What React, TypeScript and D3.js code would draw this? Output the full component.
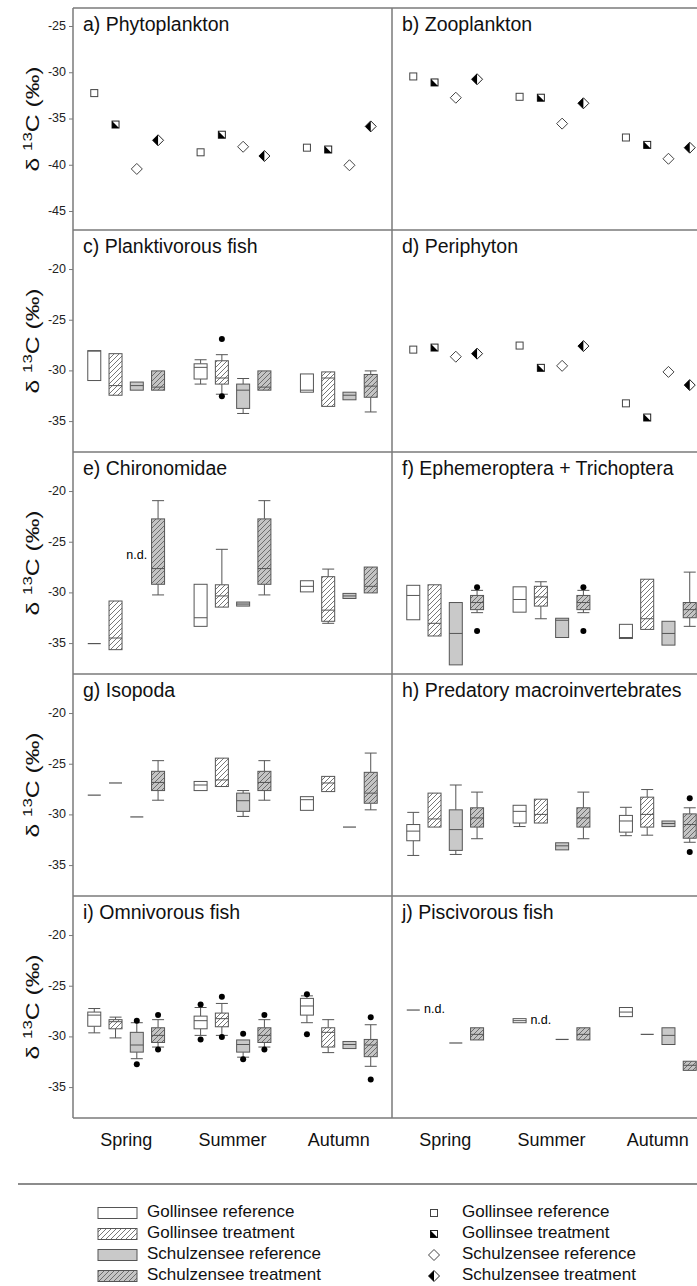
import React from 'react';
import * as d3 from 'd3';

const seasons = ['Spring', 'Summer', 'Autumn'];
const groups = ['Gollinsee reference', 'Gollinsee treatment', 'Schulzensee reference', 'Schulzensee treatment'];

// point panels: per season, one value per group (GR, GT, SR, ST)
const phytoplankton = [
  [-32.2, -35.6, -40.4, -37.3],
  [-38.6, -36.7, -38.0, -39.0],
  [-38.1, -38.3, -40.0, -35.8],
];
const zooplankton = [
  [-30.4, -31.05, -32.7, -30.7],
  [-32.6, -32.7, -35.5, -33.3],
  [-37.0, -37.8, -39.3, -38.1],
];
const periphyton = [
  [-27.9, -27.7, -28.6, -28.3],
  [-27.5, -29.7, -29.5, -27.55],
  [-33.2, -34.6, -30.1, -31.4],
];

// box panels: [whiskerLow, q1, median, q3, whiskerHigh, outliers?]; [v] = single value; null = n.d.
const planktivorous = [
  [[-30.95, -30.95, -28.05, -28.0, -28.0], [-32.4, -32.4, -31.45, -28.3, -28.3], [-31.9, -31.9, -31.45, -31.1, -31.1], [-31.9, -31.9, -31.6, -30.0, -30.0]],
  [[-31.3, -30.8, -29.65, -29.3, -28.9], [-32.3, -31.3, -30.7, -29.0, -28.4, [-26.85, -32.5]], [-34.2, -33.7, -31.9, -31.3, -30.75], [-31.9, -31.9, -31.6, -30.0, -30.0]],
  [[-32.1, -32.1, -31.9, -30.3, -30.3], [-33.5, -33.5, -30.7, -30.1, -30.1], [-32.85, -32.85, -32.4, -32.1, -32.1], [-34.05, -32.6, -31.5, -30.35, -30.0]],
];
const chironomidae = [
  [[-35.0], [-35.6, -35.6, -34.45, -30.8, -30.8], null, [-30.2, -29.15, -27.6, -22.7, -20.9]],
  [[-33.3, -33.3, -32.45, -29.15, -29.15], [-31.4, -31.4, -30.3, -29.2, -25.7], [-31.3, -31.3, -31.1, -30.9, -30.9], [-30.2, -29.15, -27.6, -22.7, -20.9]],
  [[-29.9, -29.9, -29.35, -28.8, -28.8], [-33.0, -32.8, -31.7, -28.4, -27.65], [-30.55, -30.55, -30.3, -30.05, -30.05], [-30.0, -30.0, -29.35, -27.45, -27.45]],
];
const ephemeroptera = [
  [[-32.65, -32.65, -30.25, -29.25, -29.25], [-34.25, -34.25, -33.0, -29.2, -29.2], [-37.1, -37.1, -34.0, -30.95, -30.95], [-31.95, -31.65, -30.95, -30.25, -29.75, [-29.45, -33.75]]],
  [[-31.9, -31.9, -30.65, -29.4, -29.4], [-32.55, -31.3, -30.4, -29.35, -28.9], [-34.4, -34.4, -32.7, -32.5, -32.5], [-31.95, -31.65, -30.95, -30.25, -29.75, [-29.45, -33.75]]],
  [[-34.5, -34.5, -34.4, -33.1, -33.1], [-33.6, -33.6, -32.55, -28.65, -28.65], [-35.15, -35.15, -34.0, -32.8, -32.8], [-33.3, -32.45, -31.65, -30.95, -27.95]],
];
const isopoda = [
  [[-28.05], [-26.85], [-30.2], [-28.55, -27.6, -26.8, -25.7, -24.65]],
  [[-27.6, -27.6, -27.05, -26.7, -26.7], [-27.2, -27.2, -26.55, -24.4, -24.4], [-30.15, -29.65, -28.6, -27.85, -27.6], [-28.55, -27.6, -26.8, -25.7, -24.65]],
  [[-29.55, -29.55, -28.5, -28.2, -28.2], [-27.7, -27.7, -26.85, -26.2, -26.2], [-31.2], [-29.5, -28.85, -27.85, -25.8, -23.9]],
];
const predatory = [
  [[-34.0, -32.55, -31.6, -30.95, -29.75], [-31.2, -31.2, -30.4, -27.85, -27.85], [-33.9, -33.5, -31.45, -29.5, -27.05], [-32.35, -31.2, -30.3, -29.3, -27.75]],
  [[-31.15, -30.8, -29.65, -29.05, -29.05], [-30.8, -30.8, -29.95, -28.45, -28.45], [-33.45, -33.45, -33.05, -32.75, -32.75], [-32.35, -31.2, -30.3, -29.3, -27.75]],
  [[-32.05, -31.7, -30.6, -30.05, -29.25], [-32.0, -31.2, -29.95, -28.25, -27.5], [-31.15, -31.15, -30.85, -30.6, -30.6], [-32.7, -32.3, -30.95, -29.9, -29.3, [-28.35, -33.65]]],
];
const omnivorous = [
  [[-29.6, -28.95, -27.85, -27.55, -27.2], [-30.1, -29.2, -28.5, -28.3, -28.05], [-32.15, -31.5, -30.8, -29.55, -28.6, [-28.4, -32.7]], [-31.0, -30.55, -29.85, -29.1, -28.3, [-27.85, -31.25]]],
  [[-29.85, -29.2, -28.4, -27.95, -27.1, [-26.8, -30.25]], [-29.85, -29.0, -28.2, -27.65, -26.7, [-26.05, -30.0]], [-32.0, -31.5, -30.75, -30.3, -30.3, [-29.7, -32.2]], [-31.0, -30.55, -29.85, -29.1, -28.3, [-27.85, -31.25]]],
  [[-28.6, -27.85, -26.95, -26.2, -25.95, [-25.8, -29.75]], [-31.55, -31.0, -29.55, -29.1, -28.3], [-31.15, -31.15, -30.75, -30.45, -30.45], [-32.9, -31.95, -30.8, -30.25, -28.8, [-28.05, -34.2]]],
];
const piscivorous = [
  [[-27.35], null, [-30.6], [-30.3, -30.3, -29.75, -29.1, -29.1]],
  [[-28.6, -28.6, -28.4, -28.2, -28.2], null, [-30.25], [-30.3, -30.3, -29.75, -29.1, -29.1]],
  [[-28.0, -28.0, -27.55, -27.1, -27.1], [-29.75], [-30.75, -30.75, -29.85, -29.1, -29.1], [-33.3, -33.3, -32.8, -32.4, -32.4]],
];
// where the "n.d." text sits: [season, group, value]
const chironomidaeND = [[0, 2, -26.3]];
const piscivorousND = [[0, 1, -27.35], [1, 1, -28.4]];

const ticksTop = [-25, -30, -35, -40, -45];
const ticksLow = [-20, -25, -30, -35];

const W = 697, H = 1286;
const colX = [73, 392];
const rowTop = [8, 230, 452, 674, 896];
const rowH = 222;
const panelW = 319;
const font = '"Liberation Sans", Arial, sans-serif';
const stroke = '#555';
const frame = '#7a7a7a';
const fills = ['#ffffff', 'url(#hatchW)', '#c9c9c9', 'url(#hatchG)'];

const x = d3.scaleLinear().domain([-1, 14]).range([0, panelW]);
const slot = (s: number, g: number) => s * 5 + g;
const yTop = d3.scaleLinear().domain([-47, -23]).range([rowH, 0]);
const yLow = d3.scaleLinear().domain([-38, -16.1]).range([rowH, 0]);

const panels: any[] = [
  { title: 'a) Phytoplankton', row: 0, col: 0, points: phytoplankton },
  { title: 'b) Zooplankton', row: 0, col: 1, points: zooplankton },
  { title: 'c) Planktivorous fish', row: 1, col: 0, boxes: planktivorous },
  { title: 'd) Periphyton', row: 1, col: 1, points: periphyton },
  { title: 'e) Chironomidae', row: 2, col: 0, boxes: chironomidae, nd: chironomidaeND },
  { title: 'f) Ephemeroptera + Trichoptera', row: 2, col: 1, boxes: ephemeroptera },
  { title: 'g) Isopoda', row: 3, col: 0, boxes: isopoda },
  { title: 'h) Predatory macroinvertebrates', row: 3, col: 1, boxes: predatory },
  { title: 'i) Omnivorous fish', row: 4, col: 0, boxes: omnivorous },
  { title: 'j) Piscivorous fish', row: 4, col: 1, boxes: piscivorous, nd: piscivorousND },
];

const Marker = ({ g, cx, cy }: { g: number; cx: number; cy: number }) => {
  const s = 3.5, r = 5.5;
  if (g === 0) return <rect x={cx - s} y={cy - s} width={2 * s} height={2 * s} fill="#fff" stroke="#444" strokeWidth={1} />;
  if (g === 1)
    return (
      <g>
        <rect x={cx - s} y={cy - s} width={2 * s} height={2 * s} fill="#fff" stroke="#222" strokeWidth={1} />
        <path d={`M${cx - s},${cy - s}L${cx - s},${cy + s}L${cx + s},${cy + s}Z`} fill="#000" />
      </g>
    );
  const dia = `M${cx},${cy - r}L${cx + r},${cy}L${cx},${cy + r}L${cx - r},${cy}Z`;
  if (g === 2) return <path d={dia} fill="#fff" stroke="#444" strokeWidth={1} />;
  return (
    <g>
      <path d={dia} fill="#fff" stroke="#222" strokeWidth={1} />
      <path d={`M${cx},${cy - r}L${cx - r},${cy}L${cx},${cy + r}Z`} fill="#000" />
    </g>
  );
};

const Box = ({ d, g, cx, y }: { d: any; g: number; cx: number; y: any }) => {
  const bw = 13, cw = 12;
  if (d.length === 1)
    return <line x1={cx - bw / 2} x2={cx + bw / 2} y1={y(d[0])} y2={y(d[0])} stroke={stroke} strokeWidth={1.2} />;
  const [lo, q1, med, q3, hi, out] = d;
  return (
    <g>
      {lo < q1 && (
        <g stroke={stroke} strokeWidth={1}>
          <line x1={cx} x2={cx} y1={y(q1)} y2={y(lo)} />
          <line x1={cx - cw / 2} x2={cx + cw / 2} y1={y(lo)} y2={y(lo)} />
        </g>
      )}
      {hi > q3 && (
        <g stroke={stroke} strokeWidth={1}>
          <line x1={cx} x2={cx} y1={y(q3)} y2={y(hi)} />
          <line x1={cx - cw / 2} x2={cx + cw / 2} y1={y(hi)} y2={y(hi)} />
        </g>
      )}
      <rect x={cx - bw / 2} y={y(q3)} width={bw} height={Math.max(1, y(q1) - y(q3))} fill={fills[g]} stroke={stroke} strokeWidth={1} />
      <line x1={cx - bw / 2} x2={cx + bw / 2} y1={y(med)} y2={y(med)} stroke={stroke} strokeWidth={1} />
      {(out || []).map((o: number, i: number) => (
        <circle key={i} cx={cx} cy={y(o)} r={3} fill="#000" />
      ))}
    </g>
  );
};

const App = () => {
  const rightEdge = W;
  const bottom = rowTop[4] + rowH;
  return (
    <div style={{ position: 'absolute', left: 0, top: 0 }}>
      <svg width={W} height={H} style={{ display: 'block', background: '#fff' }} fontFamily={font}>
        <defs>
          <pattern id="hatchW" patternUnits="userSpaceOnUse" width={5} height={5}>
            <rect width={5} height={5} fill="#fff" />
            <path d="M-1,6L6,-1M-1,1L1,-1M4,6L6,4" stroke="#555" strokeWidth={0.8} />
          </pattern>
          <pattern id="hatchG" patternUnits="userSpaceOnUse" width={5} height={5}>
            <rect width={5} height={5} fill="#c4c4c4" />
            <path d="M-1,6L6,-1M-1,1L1,-1M4,6L6,4" stroke="#555" strokeWidth={0.8} />
          </pattern>
        </defs>

        {panels.map((p, pi) => {
          const y = p.row === 0 ? yTop : yLow;
          const ox = colX[p.col], oy = rowTop[p.row];
          return (
            <g key={pi} transform={`translate(${ox},${oy})`}>
              <text x={10} y={23} fontSize={19.5} fill="#111">{p.title}</text>
              {p.points &&
                p.points.map((vals: number[], s: number) =>
                  vals.map((v, g) => <Marker key={`${s}-${g}`} g={g} cx={x(slot(s, g))} cy={y(v)} />)
                )}
              {p.boxes &&
                p.boxes.map((vals: any[], s: number) =>
                  vals.map((d, g) => (d ? <Box key={`${s}-${g}`} d={d} g={g} cx={x(slot(s, g))} y={y} /> : null))
                )}
              {(p.nd || []).map((n: number[], i: number) => (
                <text key={i} x={x(slot(n[0], n[1]))} y={y(n[2])} fontSize={12.5} textAnchor="middle" dominantBaseline="middle" fill="#000">
                  n.d.
                </text>
              ))}
            </g>
          );
        })}

        {/* y axes on the left column */}
        {rowTop.map((t, r) => {
          const y = r === 0 ? yTop : yLow;
          const ticks = r === 0 ? ticksTop : ticksLow;
          return (
            <g key={r} transform={`translate(${colX[0]},${t})`}>
              {ticks.map((v) => (
                <g key={v}>
                  <line x1={-4} x2={0} y1={y(v)} y2={y(v)} stroke={frame} strokeWidth={1} />
                  <text x={-7} y={y(v)} fontSize={12.5} textAnchor="end" dominantBaseline="middle" fill="#222">
                    {v}
                  </text>
                </g>
              ))}
              <text transform={`translate(${39 - colX[0]},${rowH / 2}) rotate(-90) scale(1.3,1)`} fontSize={19} textAnchor="middle" fill="#111">
                <tspan>δ </tspan>
                <tspan dy={-7} fontSize={13}>13</tspan>
                <tspan dy={7}>C (‰)</tspan>
              </text>
            </g>
          );
        })}

        {/* frame */}
        <g stroke={frame} strokeWidth={1.5}>
          {[...rowTop, bottom].map((t) => (
            <line key={t} x1={colX[0]} x2={rightEdge} y1={t} y2={t} />
          ))}
          <line x1={colX[0]} x2={colX[0]} y1={rowTop[0]} y2={bottom} />
          <line x1={colX[1]} x2={colX[1]} y1={rowTop[0]} y2={bottom} />
        </g>

        {/* season labels */}
        {colX.map((ox) =>
          seasons.map((s, i) => (
            <text key={`${ox}-${s}`} x={ox + x(slot(i, 1.5))} y={1146} fontSize={18} textAnchor="middle" fill="#111">
              {s}
            </text>
          ))
        )}

        {/* legend */}
        <line x1={18} x2={W} y1={1184} y2={1184} stroke="#666" strokeWidth={1.5} />
        {groups.map((name, g) => {
          const cy = 1213 + g * 21;
          return (
            <g key={name}>
              <rect x={98} y={cy - 5.5} width={39} height={11} fill={fills[g]} stroke={stroke} strokeWidth={1} />
              <text x={147} y={cy} fontSize={17} dominantBaseline="middle" fill="#111">{name}</text>
              <Marker g={g} cx={434} cy={cy} />
              <text x={462} y={cy} fontSize={17} dominantBaseline="middle" fill="#111">{name}</text>
            </g>
          );
        })}
      </svg>
    </div>
  );
};

export default App;
